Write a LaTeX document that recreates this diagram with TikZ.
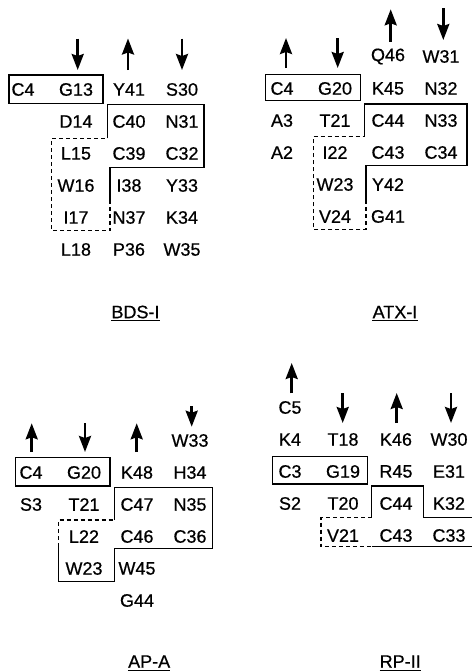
\documentclass[tikz,border=0pt]{standalone}
\usepackage{fontspec}
\setmainfont{Liberation Sans}
\newfontfamily\resfont{Liberation Sans}[FakeBold=0.6]
\usetikzlibrary{arrows.meta}

\tikzset{
  res/.style={font=\resfont\fontsize{18}{20}\selectfont, inner sep=0pt},
  seg/.style={line width=1.2pt},
  segd/.style={seg, dash pattern=on 4pt off 3pt},
  strand/.style={line width=2.5pt, -{Stealth[length=16pt,width=12pt,inset=2pt]}},
  uline/.style={line width=1.2pt},
}

\begin{document}
\begin{tikzpicture}[x=1pt, y=-1pt]
\useasboundingbox (0,0) rectangle (472,672);

% Panel BDS-I
\begin{scope}[shift={(23,89.5)}]
\foreach \nm/\cx/\ry in {C4/0/0, G13/1/0, Y41/2/0, S30/3/0,
  D14/1/1, C40/2/1, N31/3/1, L15/1/2, C39/2/2, C32/3/2,
  W16/1/3, I38/2/3, Y33/3/3, I17/1/4, N37/2/4, K34/3/4,
  L18/1/5, P36/2/5, W35/3/5}{
  \node[res] (b\nm) at (53*\cx, 32*\ry) {\nm};
}
\draw[strand] (54.7,-51) -- (54.7,-19.5);
\draw[strand] (105,-19.5) -- (105,-51);
\draw[strand] (159,-51) -- (159,-19.5);
% disulfide box and strand regions
\draw[seg] (-14,-14.5) rectangle (80,14);
\draw[seg] (84.5,48.8) -- (84.5,14.8) -- (181,14.8) -- (181,78.2) -- (87,78.2) -- (87,110.5);
\draw[segd] (87,110.5) -- (87,141.2) -- (28.7,141.2) -- (28.7,48.8) -- (84.5,48.8);
\node[res] (bname) at (112.5,222.5) {BDS-I};
\draw[uline] ([yshift=-2.3pt]bname.south west) -- ([yshift=-2.3pt]bname.south east);
\end{scope}

% Panel ATX-I
\begin{scope}[shift={(282,88.5)}]
\foreach \nm/\cx/\ry in {Q46/2/-1, W31/3/-1,
  C4/0/0, G20/1/0, K45/2/0, N32/3/0, A3/0/1, T21/1/1, C44/2/1, N33/3/1,
  A2/0/2, I22/1/2, C43/2/2, C34/3/2, W23/1/3, Y42/2/3, V24/1/4, G41/2/4}{
  \node[res] (a\nm) at (53*\cx, 32*\ry) {\nm};
}
\draw[strand] (4,-20.5) -- (4,-50.5);
\draw[strand] (55.7,-50.5) -- (55.7,-20.5);
\draw[strand] (108.7,-46.8) -- (108.7,-79.2);
\draw[strand] (161.3,-80.2) -- (161.3,-48.5);
\draw[seg] (-16.7,-14.3) rectangle (78.3,11.7);
\draw[seg] (82.3,48.2) -- (82.3,15.5) -- (185,15.5) -- (185,77.2) -- (84,77.2) -- (84,111.5);
\draw[segd] (84,111.5) -- (84,140.8) -- (31.3,140.8) -- (31.3,48.2) -- (82.3,48.2);
\node[res] (aname) at (113,223.5) {ATX-I};
\draw[uline] ([yshift=-2.3pt]aname.south west) -- ([yshift=-2.3pt]aname.south east);
\end{scope}

% Panel AP-A
\begin{scope}[shift={(31,472.5)}]
\foreach \nm/\cx/\ry in {W33/3/-1,
  C4/0/0, G20/1/0, K48/2/0, H34/3/0, S3/0/1, T21/1/1, C47/2/1, N35/3/1,
  L22/1/2, C46/2/2, C36/3/2, W23/1/3, W45/2/3, G44/2/4}{
  \node[res] (p\nm) at (53*\cx, 32*\ry) {\nm};
}
\draw[strand] (0.7,-20.5) -- (0.7,-49.2);
\draw[strand] (54,-49.2) -- (54,-20.5);
\draw[strand] (105.7,-20.5) -- (105.7,-49.2);
\draw[strand] (160.7,-66.5) -- (160.7,-45.8);
\draw[seg] (-15.3,-14.8) rectangle (79,13.5);
\draw[seg] (83.5,47.5) -- (83.5,15.2) -- (181.3,15.2) -- (181.3,75.8) -- (83.5,75.8) -- (83.5,109.2) -- (27.3,109.2) -- (27.3,74.2);
\draw[segd] (27.3,74.2) -- (27.3,47.5) -- (83.5,47.5);
\node[res] (pname) at (118.2,189) {AP-A};
\draw[uline] ([yshift=-2.3pt]pname.south west) -- ([yshift=-2.3pt]pname.south east);
\end{scope}

% Panel RP-II
\begin{scope}[shift={(290,471.5)}]
\foreach \nm/\cx/\ry in {C5/0/-2,
  K4/0/-1, T18/1/-1, K46/2/-1, W30/3/-1, C3/0/0, G19/1/0, R45/2/0, E31/3/0,
  S2/0/1, T20/1/1, C44/2/1, K32/3/1, V21/1/2, C43/2/2, C33/3/2}{
  \node[res] (r\nm) at (53*\cx, 32*\ry) {\nm};
}
\draw[strand] (1.7,-78.2) -- (1.7,-108.5);
\draw[strand] (52.7,-78.5) -- (52.7,-48.5);
\draw[strand] (106.7,-48.5) -- (106.7,-78.5);
\draw[strand] (161,-78.5) -- (161,-48.5);
\draw[seg] (-17.3,-14.8) rectangle (77.7,12.5);
\draw[seg] (81.7,45.8) -- (81.7,14.5) -- (133.7,14.5) -- (133.7,45.8) -- (182,45.8);
\draw[seg] (81.7,75.2) -- (182,75.2);
\draw[segd] (81.7,45.8) -- (31,45.8) -- (31,75.2) -- (81.7,75.2);
\node[res] (rname) at (110.2,190) {RP-II};
\draw[uline] ([yshift=-2.3pt]rname.south west) -- ([yshift=-2.3pt]rname.south east);
\end{scope}

\end{tikzpicture}
\end{document}
